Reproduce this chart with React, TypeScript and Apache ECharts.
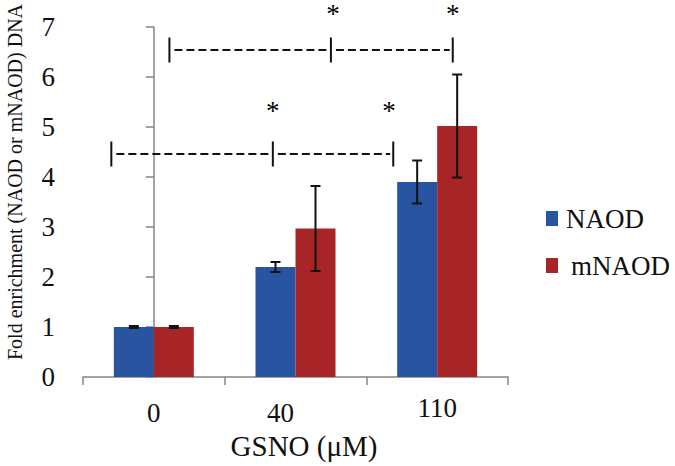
import React, { useEffect, useRef } from 'react';
import * as echarts from 'echarts';

// ---- data ----
const categories = ['0', '40', '110'];
const naodValues = [1.0, 2.2, 3.9];
const naodErrors = [0.02, 0.1, 0.43];
const mnaodValues = [1.0, 2.97, 5.02];
const mnaodErrors = [0.02, 0.85, 1.03];
const seriesNames = ['NAOD', 'mNAOD'];
const yAxisTitle = 'Fold enrichment (NAOD or mNAOD) DNA';
const xAxisTitle = 'GSNO (\u03bcM)';

// significance brackets: [left x, middle x, right x, level] on a continuous category scale
const brackets = [
  [-0.3, 0.84, 1.69, 4.46],
  [0.11, 1.25, 2.11, 6.54],
];
// asterisks: [x, y]
const stars = [
  [0.84, 5.33],
  [1.66, 5.33],
  [1.265, 7.26],
  [2.11, 7.26],
];

const FONT = "'Liberation Serif', 'Times New Roman', serif";
const BLUE = '#2854A2';
const RED = '#A72527';
const BAR_W = 40;

export default function App() {
  const ref = useRef<HTMLDivElement>(null);

  useEffect(() => {
    document.body.style.margin = '0';
    if (!ref.current) return;
    const chart = echarts.init(ref.current, undefined, { renderer: 'svg' });

    const errorRender = (offset: number) => (params: any, api: any) => {
      const x = api.value(0);
      const y = api.value(1);
      const e = api.value(2);
      const top = api.coord([x, y + e]);
      const bot = api.coord([x, y - e]);
      const cx = top[0] + offset;
      const style = { stroke: '#111', lineWidth: 2 };
      return {
        type: 'group',
        children: [
          { type: 'line', shape: { x1: cx, y1: top[1], x2: cx, y2: bot[1] }, style },
          { type: 'line', shape: { x1: cx - 5, y1: top[1], x2: cx + 5, y2: top[1] }, style },
          { type: 'line', shape: { x1: cx - 5, y1: bot[1], x2: cx + 5, y2: bot[1] }, style },
        ],
      };
    };

    const bracketRender = (params: any, api: any) => {
      const x1 = api.value(0);
      const x2 = api.value(1);
      const x3 = api.value(2);
      const lv = api.value(3);
      const p1 = api.coord([x1, lv]);
      const p2 = api.coord([x2, lv]);
      const p3 = api.coord([x3, lv]);
      const solid = { stroke: '#111', lineWidth: 2 };
      const dashed = { stroke: '#111', lineWidth: 2, lineDash: [8, 4] };
      const vh = 12.5;
      const mk = (p: number[]) => ({
        type: 'line',
        shape: { x1: p[0], y1: p[1] - vh, x2: p[0], y2: p[1] + vh },
        style: solid,
      });
      return {
        type: 'group',
        children: [
          { type: 'line', shape: { x1: p1[0] + 5, y1: p1[1], x2: p2[0] - 3, y2: p2[1] }, style: dashed },
          { type: 'line', shape: { x1: p2[0] + 5, y1: p2[1], x2: p3[0] - 3, y2: p3[1] }, style: dashed },
          mk(p1),
          mk(p2),
          mk(p3),
        ],
      };
    };

    const starRender = (params: any, api: any) => {
      const p = api.coord([api.value(0), api.value(1)]);
      return {
        type: 'text',
        x: p[0],
        y: p[1],
        style: {
          text: '*',
          font: `27px ${FONT}`,
          lineHeight: 14,
          fill: '#000',
          align: 'center',
          verticalAlign: 'middle',
        },
      };
    };

    chart.setOption({
      animation: false,
      backgroundColor: '#fff',
      grid: { left: 83, right: 167, top: 27, bottom: 89, containLabel: false },
      legend: {
        data: seriesNames,
        orient: 'vertical',
        left: 541,
        top: 200,
        icon: 'rect',
        itemWidth: 12,
        itemHeight: 15,
        itemGap: 20,
        textStyle: {
          fontFamily: FONT,
          fontSize: 27,
          color: '#111',
          padding: [0, 0, 0, 3],
          rich: {
            m: { fontFamily: FONT, fontSize: 27, color: '#111', padding: [0, 0, 0, 5] },
          },
        },
        formatter: (name: string) => (name === 'mNAOD' ? `{m|${name}}` : name),
      },
      xAxis: [
        {
          type: 'category',
          data: categories,
          boundaryGap: true,
          axisLine: { lineStyle: { color: '#858585', width: 1.5 } },
          axisTick: { show: true, length: 8, lineStyle: { color: '#858585', width: 1.5 } },
          axisLabel: {
            margin: 17,
            fontFamily: FONT,
            fontSize: 27,
            color: '#111',
            formatter: (v: string) => (v === '40' ? `{b|${v}}` : v === '110' ? `{c|${v}}` : `{a|${v}}`),
            rich: {
              a: { fontFamily: FONT, fontSize: 27, color: '#111', padding: [5, 0, 0, 0] },
              b: { fontFamily: FONT, fontSize: 27, color: '#111', padding: [5, 30, 0, 0] },
              c: { fontFamily: FONT, fontSize: 27, color: '#111', padding: [0, 0, 0, 0] },
            },
          },
          name: xAxisTitle,
          nameLocation: 'middle',
          nameGap: 54,
          nameTextStyle: {
            fontFamily: FONT,
            fontSize: 29,
            color: '#111',
            padding: [0, 0, 0, 17],
          },
        },
        { type: 'value', min: -0.5, max: 2.5, show: false },
      ],
      yAxis: {
        type: 'value',
        min: 0,
        max: 7,
        interval: 1,
        splitLine: { show: false },
        axisLine: { show: true, lineStyle: { color: '#858585', width: 1.5 } },
        axisTick: { show: true, length: 8, lineStyle: { color: '#858585', width: 1.5 } },
        axisLabel: { margin: 28, fontFamily: FONT, fontSize: 27, color: '#111' },
      },
      graphic: [
        {
          type: 'text',
          x: 15,
          y: 182,
          rotation: Math.PI / 2,
          style: {
            text: yAxisTitle,
            font: `20px ${FONT}`,
            fill: '#111',
            align: 'center',
            verticalAlign: 'middle',
          },
        },
      ],
      series: [
        {
          name: 'NAOD',
          type: 'bar',
          data: naodValues,
          barWidth: BAR_W,
          barGap: '0%',
          itemStyle: { color: BLUE },
        },
        {
          name: 'mNAOD',
          type: 'bar',
          data: mnaodValues,
          barWidth: BAR_W,
          barGap: '0%',
          itemStyle: { color: RED },
        },
        {
          type: 'custom',
          renderItem: errorRender(-BAR_W / 2),
          data: naodValues.map((v, i) => [i, v, naodErrors[i]]),
          z: 10,
        },
        {
          type: 'custom',
          renderItem: errorRender(BAR_W / 2),
          data: mnaodValues.map((v, i) => [i, v, mnaodErrors[i]]),
          z: 10,
        },
        {
          type: 'custom',
          xAxisIndex: 1,
          renderItem: bracketRender,
          data: brackets,
          clip: false,
          z: 10,
        },
        {
          type: 'custom',
          xAxisIndex: 1,
          renderItem: starRender,
          data: stars,
          clip: false,
          z: 10,
        },
      ],
    });

    return () => chart.dispose();
  }, []);

  return <div ref={ref} style={{ width: 675, height: 466 }} />;
}
